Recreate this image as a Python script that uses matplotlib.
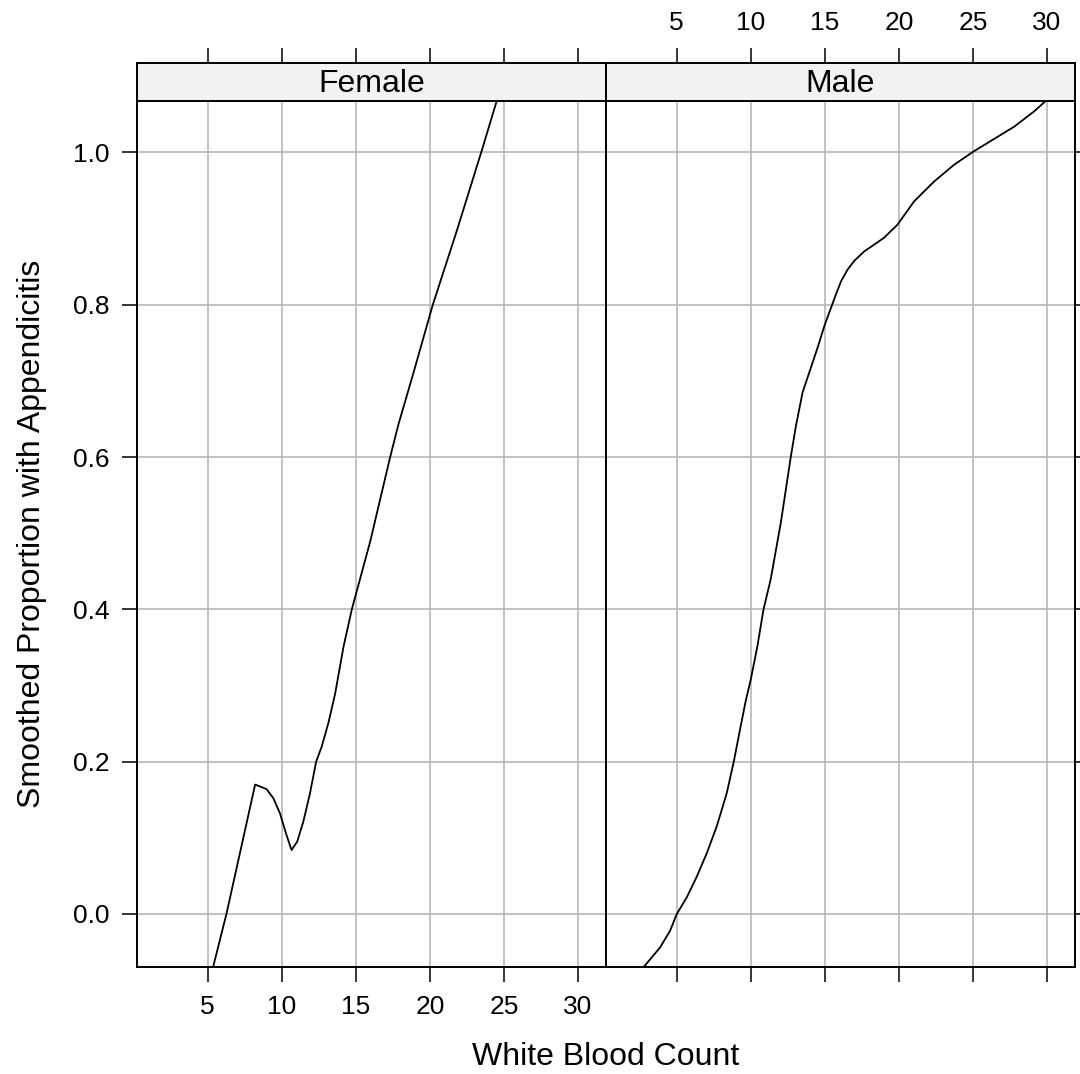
import matplotlib
matplotlib.use("Agg")
import matplotlib.pyplot as plt

plt.rcParams['font.family'] = ['Liberation Sans', 'DejaVu Sans']

# smoothed curves
female_wbc = [5.37, 6.26, 8.20, 8.97, 9.43, 9.88, 10.28, 10.66, 11.04, 11.45, 11.9,
              12.32, 12.70, 13.15, 13.6, 14.17, 14.73, 15.97, 17.32, 17.88, 18.9,
              20.2, 21.82, 23.5, 24.57]
female_prop = [-0.069, 0.0, 0.170, 0.164, 0.152, 0.132, 0.106, 0.084, 0.095, 0.121, 0.158,
               0.2, 0.22, 0.251, 0.289, 0.351, 0.4, 0.489, 0.6, 0.643, 0.711,
               0.8, 0.897, 1.002, 1.071]

male_wbc = [2.75, 3.87, 4.55, 5.0, 5.68, 6.35, 7.03, 7.70, 8.38, 8.85, 9.3, 9.66,
            10.0, 10.45, 10.86, 11.35, 12.03, 12.70, 13.04, 13.5, 14.5, 15.0, 15.74,
            16.1, 16.53, 17.0, 17.66, 19.0, 19.9, 21.04, 22.39, 23.74, 25.02, 27.8, 29.14, 30.0]
male_prop = [-0.07, -0.044, -0.022, 0.0, 0.022, 0.049, 0.08, 0.115, 0.159, 0.2, 0.245, 0.28,
             0.308, 0.352, 0.4, 0.44, 0.514, 0.6, 0.64, 0.685, 0.743, 0.774, 0.813,
             0.831, 0.846, 0.858, 0.870, 0.888, 0.905, 0.936, 0.962, 0.984, 1.001, 1.034, 1.054, 1.069]

panels = ["Female", "Male"]
x_ticks = [5, 10, 15, 20, 25, 30]
y_ticks = [0.0, 0.2, 0.4, 0.6, 0.8, 1.0]
xlim = (0.22, 31.9)
ylim = (-0.0696, 1.0676)

W, H = 1080, 1074
fig = plt.figure(figsize=(W / 100, H / 100), dpi=100)

# panel geometry in pixels
px_left = [137, 606]
px_w = 469
py_top, py_bot = 101, 967
strip_top = 63

grid_col = '#b8b8b8'
tick_kw = dict(direction='out', length=11, width=1.1, labelsize=19, pad=9)

data = [(female_wbc, female_prop), (male_wbc, male_prop)]

for i, name in enumerate(panels):
    l = px_left[i] / W
    w = px_w / W
    b = 1 - py_bot / H
    h = (py_bot - py_top) / H
    ax = fig.add_axes([l, b, w, h])
    ax.set_xlim(*xlim)
    ax.set_ylim(*ylim)
    for xv in x_ticks:
        ax.axvline(xv, color=grid_col, lw=1.2, zorder=1)
    for yv in y_ticks:
        ax.axhline(yv, color=grid_col, lw=1.2, zorder=1)
    ax.plot(data[i][0], data[i][1], color='black', lw=1.3, zorder=3)
    for s in ax.spines.values():
        s.set_linewidth(1.4)
    ax.set_xticks(x_ticks)
    ax.set_yticks(y_ticks)
    ax.set_yticklabels(['%.1f' % v for v in y_ticks])
    ax.tick_params(**tick_kw)
    if i == 0:
        ax.tick_params(axis='y', left=True, right=False, labelleft=True)
        ax.tick_params(axis='x', bottom=True, labelbottom=True)
    else:
        ax.tick_params(axis='y', left=False, labelleft=False, right=True, labelright=False)
        ax.tick_params(axis='x', bottom=True, labelbottom=False)

    # strip on top with the top axis ticks
    sax = fig.add_axes([l, 1 - py_top / H, w, (py_top - strip_top) / H])
    sax.set_facecolor('#f2f2f2')
    sax.set_xlim(*xlim)
    sax.set_ylim(0, 1)
    sax.set_yticks([])
    sax.set_xticks(x_ticks)
    sax.tick_params(**tick_kw)
    sax.tick_params(axis='x', bottom=False, labelbottom=False, top=True,
                    labeltop=(i == 1))
    for s in sax.spines.values():
        s.set_linewidth(1.4)
    sax.text(0.5, 0.45, name, transform=sax.transAxes, ha='center', va='center',
             fontsize=23)

fig.text((137 + 1075) / 2 / W, 1 - 1057 / H, "White Blood Count", ha='center',
         va='center', fontsize=23)
fig.text(32 / W, 1 - 534 / H, "Smoothed Proportion with Appendicitis", ha='center',
         va='center', rotation=90, fontsize=23)

fig.savefig("out.png", dpi=100)
